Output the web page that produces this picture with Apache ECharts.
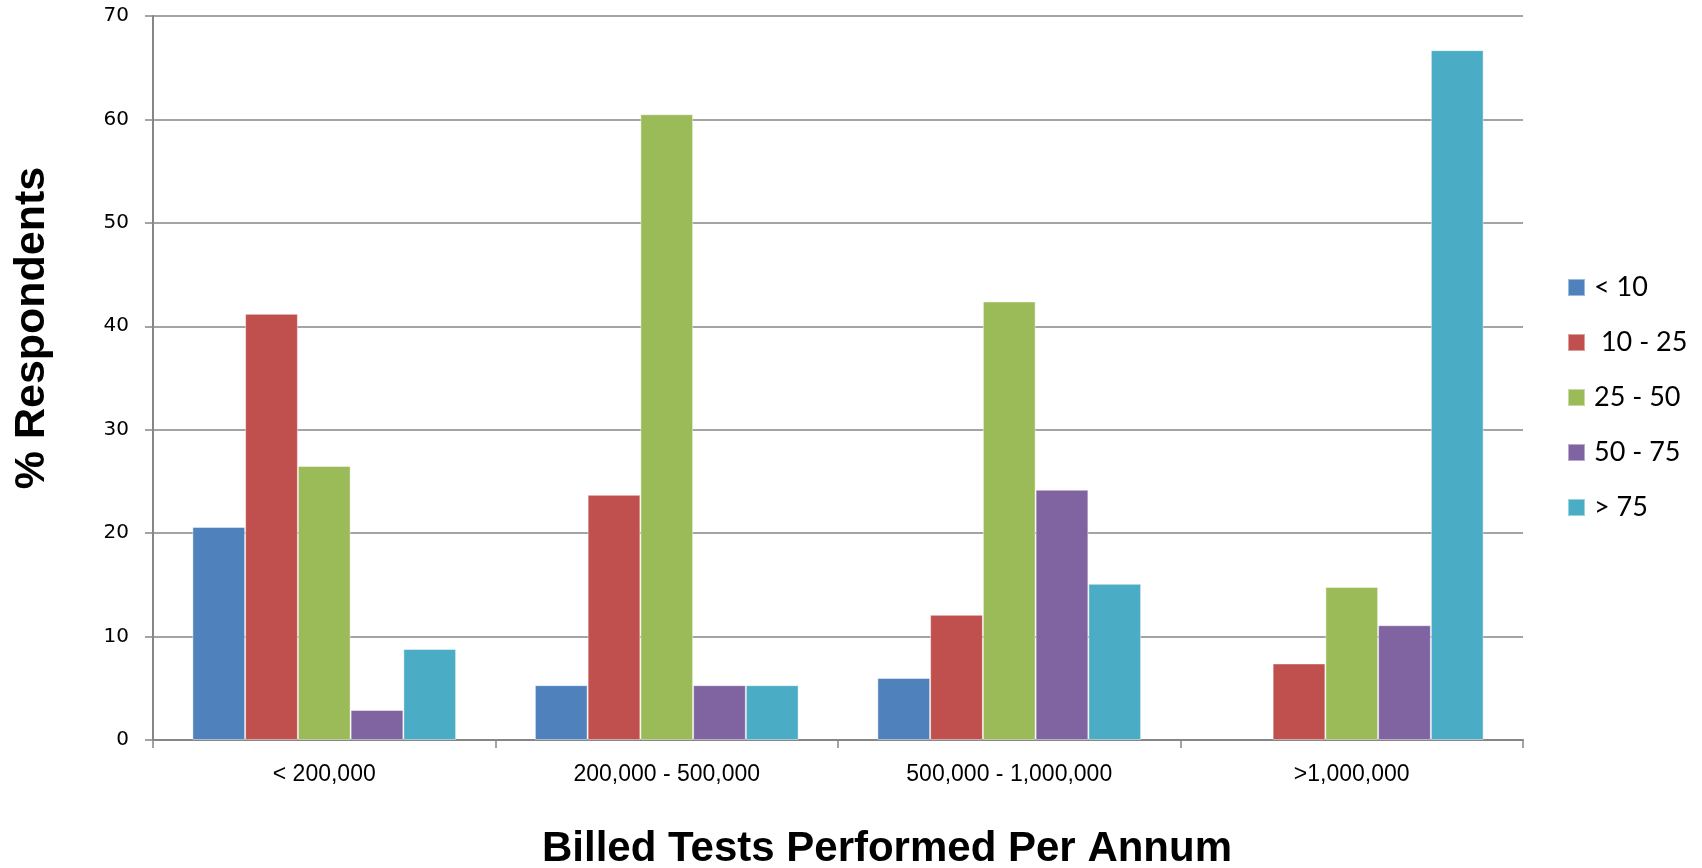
<!DOCTYPE html>
<html>
<head>
<meta charset="utf-8">
<script src="https://cdn.jsdelivr.net/npm/echarts@6/dist/echarts.min.js"></script>
<style>
html,body{margin:0;padding:0;background:#fff;}
#chart{width:1702px;height:868px;}
</style>
</head>
<body>
<div id="chart"></div>
<script>
const categories = ['< 200,000', '200,000 - 500,000', '500,000 - 1,000,000', '>1,000,000'];
const seriesNames = ['< 10', ' 10 - 25', '25 - 50', '50 - 75', '> 75'];
const lt10 = [20.6, 5.3, 6.0, null];
const s10to25 = [41.2, 23.7, 12.1, 7.4];
const s25to50 = [26.5, 60.5, 42.4, 14.8];
const s50to75 = [2.9, 5.3, 24.2, 11.1];
const gt75 = [8.8, 5.3, 15.1, 66.7];
const yTicks = [0, 10, 20, 30, 40, 50, 60, 70];
const colors = ['#4F81BD', '#C0504D', '#9BBB59', '#8064A2', '#4BACC6'];

const values = [lt10, s10to25, s25to50, s50to75, gt75];
const chart = echarts.init(document.getElementById('chart'));
chart.setOption({
  animation: false,
  backgroundColor: '#fff',
  grid: {left: 153, right: 179, top: 16, bottom: 128, containLabel: false},
  legend: {
    orient: 'vertical',
    left: 1562,
    top: 269,
    itemWidth: 17,
    itemHeight: 17,
    itemGap: 28,
    icon: 'rect',
    textStyle: {fontFamily: 'Lato', fontSize: 27, color: '#000', lineHeight: 24, padding: [0, 0, 0, 4]},
    data: seriesNames
  },
  xAxis: {
    type: 'category',
    data: categories,
    axisLine: {lineStyle: {color: '#868686', width: 2}},
    axisTick: {show: true, length: 8, lineStyle: {color: '#868686', width: 1.5}},
    axisLabel: {fontFamily: 'Liberation Sans', fontSize: 23, color: '#000', margin: 23}
  },
  yAxis: {
    type: 'value',
    min: yTicks[0],
    max: yTicks[yTicks.length - 1],
    interval: 10,
    axisLine: {show: true, lineStyle: {color: '#868686', width: 2}},
    axisTick: {show: true, length: 8, lineStyle: {color: '#868686', width: 1.5}},
    splitLine: {lineStyle: {color: '#868686', width: 1.5}},
    axisLabel: {fontFamily: 'DejaVu Sans', fontSize: 20, color: '#000', margin: 24}
  },
  graphic: [
    {type: 'text', x: 887, y: 849, style: {text: 'Billed Tests Performed Per Annum', font: 'bold 42px "Liberation Sans"', fill: '#000', textAlign: 'center', textVerticalAlign: 'middle'}},
    {type: 'text', x: 32, y: 328, rotation: Math.PI / 2, style: {text: '% Respondents', font: 'bold 43px "Liberation Sans"', fill: '#000', textAlign: 'center', textVerticalAlign: 'middle'}}
  ],
  series: seriesNames.map((name, i) => ({
    name: name,
    type: 'bar',
    data: values[i],
    barGap: '0%',
    barCategoryGap: '23%',
    itemStyle: {color: colors[i], borderColor: 'rgba(255,255,255,0.45)', borderWidth: 1}
  }))
});
</script>
</body>
</html>
